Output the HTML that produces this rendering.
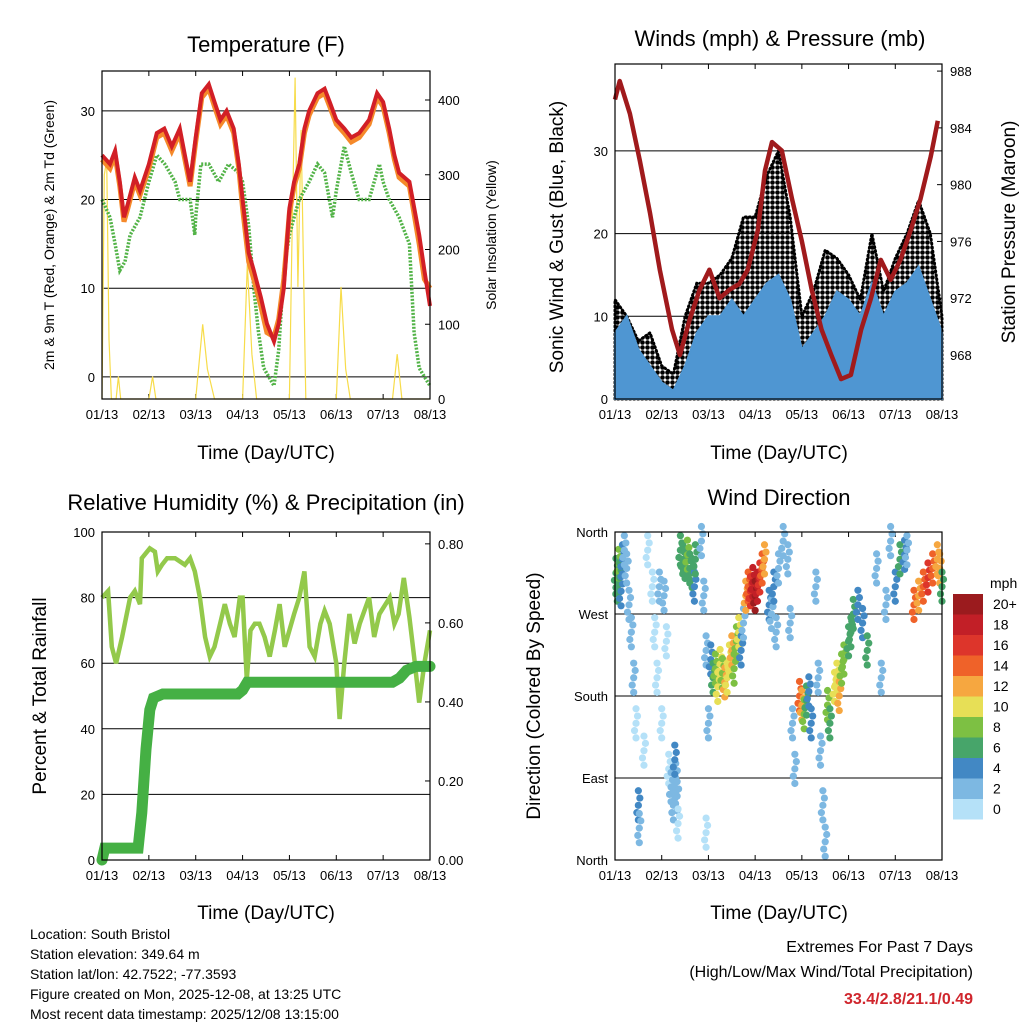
<!DOCTYPE html>
<html><head><meta charset="utf-8"><style>
body{margin:0;background:#fff}
svg{display:block;font-family:"Liberation Sans",Arial,sans-serif}
</style></head><body>
<svg id="s" width="1024" height="1024" viewBox="0 0 1024 1024">
<defs>
<pattern id="dots" width="5" height="5" patternUnits="userSpaceOnUse"><circle cx="2.5" cy="2.5" r="2.3" fill="#000"/></pattern>
</defs>
<text x="266" y="52" font-size="22" text-anchor="middle">Temperature (F)</text>
<text x="780" y="46" font-size="22" text-anchor="middle">Winds (mph) &amp; Pressure (mb)</text>
<text x="266" y="510" font-size="22" text-anchor="middle">Relative Humidity (%) &amp; Precipitation (in)</text>
<text x="779" y="505" font-size="22" text-anchor="middle">Wind Direction</text>
<text x="266" y="459" font-size="19" text-anchor="middle">Time (Day/UTC)</text>
<text x="779" y="459" font-size="19" text-anchor="middle">Time (Day/UTC)</text>
<text x="266" y="919" font-size="19" text-anchor="middle">Time (Day/UTC)</text>
<text x="779" y="919" font-size="19" text-anchor="middle">Time (Day/UTC)</text>
<text transform="translate(54,235) rotate(-90)" font-size="14" text-anchor="middle">2m &amp; 9m T (Red, Orange) &amp; 2m Td (Green)</text>
<text transform="translate(496,235) rotate(-90)" font-size="14" text-anchor="middle">Solar Insolation (Yellow)</text>
<text transform="translate(563,237) rotate(-90)" font-size="19" text-anchor="middle">Sonic Wind &amp; Gust (Blue, Black)</text>
<text transform="translate(1015,232) rotate(-90)" font-size="19" text-anchor="middle">Station Pressure (Maroon)</text>
<text transform="translate(46,696) rotate(-90)" font-size="19" text-anchor="middle">Percent &amp; Total Rainfall</text>
<text transform="translate(540,696) rotate(-90)" font-size="19" text-anchor="middle">Direction (Colored By Speed)</text>
<g font-size="14">
<text x="30" y="939">Location: South Bristol</text>
<text x="30" y="959">Station elevation: 349.64 m</text>
<text x="30" y="979">Station lat/lon: 42.7522; -77.3593</text>
<text x="30" y="999">Figure created on Mon, 2025-12-08, at 13:25 UTC</text>
<text x="30" y="1019">Most recent data timestamp: 2025/12/08 13:15:00</text>
</g>
<g font-size="16" text-anchor="end">
<text x="973" y="952">Extremes For Past 7 Days</text>
<text x="973" y="977">(High/Low/Max Wind/Total Precipitation)</text>
<text x="973" y="1004" fill="#d0262d" font-weight="bold">33.4/2.8/21.1/0.49</text>
</g>
<g id="plots"></g>
</svg>
<script>
// ---------- data ----------
const dayLabels=["01/13","02/13","03/13","04/13","05/13","06/13","07/13","08/13"];
const tTimes=[0,0.17,0.28,0.38,0.47,0.55,0.7,0.81,1.0,1.17,1.33,1.49,1.66,1.77,1.88,2.0,2.13,2.28,2.4,2.53,2.66,2.81,2.92,3.0,3.13,3.24,3.39,3.52,3.67,3.77,3.88,4.0,4.1,4.21,4.32,4.42,4.6,4.75,4.86,5.0,5.17,5.32,5.49,5.7,5.87,6.0,6.13,6.24,6.34,6.56,6.77,6.88,7.0];
const tRed=[25,24,25.5,22,18,19.5,22.5,21,24,27.5,28,26,28,25,22,27,32,33,31,29,30,28,24,20,14,12,9,6,4,6,10,19,22,24,28,30,32,32.5,31,29,28,27,27.5,29,32,31,28,25,23,22,16,12,8];
const tOrange=[24.5,23.5,25,21.5,17.5,19,22,20.5,23.5,27,27.5,25.5,27.5,24.5,21.5,26.5,31.5,32.5,30.5,28.5,29.5,27.5,23.5,19,13,11,8,5,4.5,6.5,11,18.5,21.5,23.5,27.5,29.5,31.5,32,30.5,28.5,27.5,26.5,27,28.5,31.5,30.5,27.5,24.5,22.5,21.5,15,11,10];
const tdTimes=[0,0.17,0.28,0.38,0.49,0.6,0.81,1.0,1.17,1.34,1.56,1.66,1.88,1.98,2.0,2.11,2.28,2.49,2.7,2.92,3.0,3.13,3.24,3.34,3.45,3.56,3.67,3.77,3.88,4.0,4.1,4.21,4.42,4.6,4.75,4.92,5.0,5.17,5.32,5.49,5.7,5.81,5.92,6.0,6.13,6.34,6.56,6.66,6.77,6.88,7.0];
const tdVals=[20,18,15,12,13,16,18,22,25,24,22,20,20,16,18,24,24,22,24,23,22,17,10,5,1,0,-1,3,12,16,18,20,22,24,23,18,21,26,23,20,20,22,24,22,20,18,15,5,1,0,-1];
const solTimes=[0,0.05,0.1,0.15,0.2,0.3,0.35,0.4,1.0,1.08,1.15,2.0,2.15,2.25,2.4,3.0,3.1,3.2,3.3,3.45,4.0,4.05,4.12,4.18,4.25,4.35,5.0,5.1,5.2,5.3,6.0,6.2,6.3,6.4,7.0];
const solVals=[0,300,320,80,0,0,30,0,0,30,0,0,100,40,0,0,180,60,0,0,0,200,430,150,360,0,0,150,40,0,0,0,60,0,0];
const wTimes=[0,0.25,0.5,0.75,1,1.25,1.5,1.75,2,2.25,2.5,2.75,3,3.25,3.5,3.75,4,4.25,4.5,4.75,5,5.25,5.5,5.75,6,6.25,6.5,6.75,7];
const wSust=[8,10,6,4,2,1,4,8,10,10,12,10,12,14,15,12,6,8,10,13,12,10,14,10,13,14,16,12,8];
const wGust=[12,10,7,8,4,3,10,14,14,15,17,22,22,27,30,22,10,13,18,17,15,12,20,13,17,20,24,20,10];
const pTimes=[0,0.1,0.32,0.53,0.75,0.96,1.22,1.39,1.6,1.81,2.02,2.24,2.45,2.66,2.84,3.06,3.21,3.36,3.57,3.79,4.0,4.21,4.42,4.63,4.84,5.05,5.27,5.48,5.69,5.9,6.11,6.33,6.54,6.76,6.91];
const pVals=[986,987.3,985,981.7,978,974,969.8,968,970.5,972.6,974,972,972.6,973,974,976.8,981,983,982.4,979,976,972.6,969.8,968,966.3,966.6,969.8,972,974.7,973.3,974.7,976.8,979,982,984.5];
const rhTimes=[0,0.13,0.21,0.3,0.43,0.6,0.7,0.81,0.85,1.02,1.13,1.19,1.28,1.39,1.56,1.77,1.88,1.98,2.09,2.2,2.3,2.4,2.52,2.62,2.73,2.83,2.94,3.0,3.09,3.17,3.26,3.36,3.47,3.58,3.69,3.79,3.9,4.0,4.1,4.21,4.32,4.43,4.54,4.66,4.75,4.86,5.0,5.07,5.17,5.28,5.39,5.5,5.7,5.81,5.92,6.14,6.24,6.33,6.44,6.56,6.66,6.77,6.88,7.0];
const rhVals=[80,82,65,60,68,80,82,78,92,95,94,88,90,92,92,90,92,88,80,68,62,65,72,78,72,68,80,80,55,70,72,72,68,62,70,78,65,70,75,80,88,65,62,72,76,72,60,43,60,75,66,72,80,68,75,80,72,75,86,74,62,48,60,70];
const prTimes=[0,0.06,0.77,0.85,0.94,1.02,1.1,1.3,1.5,2.0,2.5,2.9,3.0,3.1,3.5,4.0,5.0,6.0,6.2,6.35,6.5,6.7,7.0];
const prVals=[0,0.03,0.03,0.12,0.28,0.38,0.41,0.42,0.42,0.42,0.42,0.42,0.43,0.45,0.45,0.45,0.45,0.45,0.45,0.46,0.48,0.49,0.49];
const dTimes=[0.02,0.05,0.08,0.1,0.13,0.16,0.2,0.25,0.3,0.35,0.4,0.45,0.5,0.52,0.62,0.7,0.8,0.85,0.9,0.95,1.0,1.05,1.1,1.15,1.2,1.25,1.3,1.28,1.33,1.35,1.4,1.45,1.5,1.55,1.6,1.65,1.7,1.72,1.85,1.9,1.95,2.0,1.95,2.05,2.1,2.15,2.2,2.25,2.3,2.35,2.4,2.45,2.5,2.55,2.6,2.65,2.7,2.75,2.8,2.85,2.9,2.95,3.0,3.05,3.1,3.15,3.2,3.3,3.35,3.4,3.45,3.5,3.6,3.7,3.75,3.8,3.85,3.95,4.0,4.05,4.1,4.15,4.2,4.3,4.35,4.4,4.45,4.5,4.55,4.6,4.7,4.75,4.8,4.85,4.9,5.0,5.05,5.1,5.2,5.3,5.4,5.6,5.7,5.8,5.9,6.0,6.1,6.2,6.25,6.4,6.5,6.6,6.7,6.8,6.9,6.95,7.0];
const dDeg=[315,300,325,310,295,330,340,320,280,250,200,150,60,35,120,340,300,250,200,300,150,290,240,100,80,60,90,110,70,40,340,330,325,335,320,315,300,330,350,290,230,150,30,220,200,210,190,215,205,195,200,220,230,210,240,250,230,260,290,300,295,305,290,300,310,320,330,280,270,300,250,320,350,330,260,150,100,180,170,160,175,185,150,300,200,120,60,20,170,150,190,200,180,210,220,240,250,270,280,260,230,320,200,280,350,300,330,335,340,280,290,300,310,320,330,320,300];
const dSpd=[7,6,8,6,5,4,3,2,3,2,2,1,4,2,1,1,1,1,0,2,1,2,1,1,2,3,3,4,3,1,7,6,7,8,6,7,5,6,2,3,3,2,1,4,6,8,10,11,9,12,10,11,12,9,8,10,4,3,12,14,16,18,20,19,17,15,12,4,3,4,3,2,2,3,2,2,2,14,12,8,6,4,5,2,3,2,3,2,8,6,10,11,12,9,8,7,6,7,5,4,6,3,3,2,2,5,6,4,3,14,12,15,16,14,12,13,6];
const cbLabels=["20+","18","16","14","12","10","8","6","4","2","0"];
const cbColors=["#9b1b1e","#c21f27","#dd352b","#ef6229","#f6a740","#e7df56","#7dc043","#47a56a","#4288c4","#7db8e2","#b5e1f8"];
// ---------- helpers ----------
const NS="http://www.w3.org/2000/svg";
const root=document.getElementById('plots');
function mk(tag,attrs,parent){const e=document.createElementNS(NS,tag);for(const k in attrs)e.setAttribute(k,attrs[k]);(parent||root).appendChild(e);return e;}
function X(p,d){return p.x0+d/7*(p.x1-p.x0);}
function Y(p,v,mn,mx){return p.y1-(v-mn)/(mx-mn)*(p.y1-p.y0);}
function frame(p,name,yticks,ymin,ymax,ylabels,rticks,rmin,rmax,rlabels){
  const g=mk('g',{});
  
  
  yticks.forEach((v,i)=>{const y=Y(p,v,ymin,ymax);
    const l=mk('line',{x1:p.x0,x2:p.x1,y1:y,y2:y,stroke:'#000','stroke-width':1},g);
    
    
    const t=mk('text',{x:p.x0-7,y:y+5,'font-size':13,'text-anchor':'end'},g);t.textContent=ylabels[i];
    
    });
  rticks.forEach((v,i)=>{const y=Y(p,v,rmin,rmax);
    mk('line',{x1:p.x1,x2:p.x1-5,y1:y,y2:y,stroke:'#000'},g);
    const t=mk('text',{x:p.x1+8,y:y+5,'font-size':13},g);t.textContent=rlabels[i];
    
    });
  dayLabels.forEach((s,i)=>{const x=X(p,i);
    mk('line',{x1:x,x2:x,y1:p.y1,y2:p.y1-5,stroke:'#000'},g);
    mk('line',{x1:x,x2:x,y1:p.y0,y2:p.y0+5,stroke:'#000'},g);
    const t=mk('text',{x:x,y:p.y1+20,'font-size':13,'text-anchor':'middle'},g);t.textContent=s;
    
    });
  return g;}
function box(p){mk('rect',{x:p.x0,y:p.y0,width:p.x1-p.x0,height:p.y1-p.y0,fill:'none',stroke:'#000','stroke-width':1.2});}
function path(p,ts,vs,mn,mx){return ts.map((t,i)=>(i?'L':'M')+X(p,t).toFixed(1)+','+Y(p,vs[i],mn,mx).toFixed(1)).join('');}
// ---------- temperature ----------
const P1={x0:102,x1:430,y0:71,y1:399};
frame(P1,'temperature',[0,10,20,30],-2.5,34.5,['0','10','20','30'],[0,100,200,300,400],0,438.8,['0','100','200','300','400']);
const sol=mk('path',{d:path(P1,solTimes,solVals,0,438.8),fill:'none',stroke:'#f7dc4a','stroke-width':1.2});


const td=mk('path',{d:path(P1,tdTimes,tdVals,-2.5,34.5),fill:'none',stroke:'#52b347','stroke-width':3.5,'stroke-dasharray':'2 1.5'});


const tor=mk('path',{d:path(P1,tTimes,tOrange,-2.5,34.5),fill:'none',stroke:'#f5892a','stroke-width':5});


const tr=mk('path',{d:path(P1,tTimes,tRed,-2.5,34.5),fill:'none',stroke:'#d21f26','stroke-width':4});


box(P1);
// ---------- winds ----------
const P2={x0:615,x1:942,y0:64,y1:399};
frame(P2,'winds',[0,10,20,30],0,40.5,['0','10','20','30'],[968,972,976,980,984,988],964.9,988.5,['968','972','976','980','984','988']);
const gArea='M'+X(P2,0)+','+P2.y1+path(P2,wTimes,wGust,0,40.5).replace('M','L')+'L'+X(P2,7)+','+P2.y1+'Z';
const ga=mk('path',{d:gArea,fill:'url(#dots)',stroke:'#000','stroke-width':3,'stroke-dasharray':'1 3','stroke-linecap':'round'});


const sArea='M'+X(P2,0)+','+P2.y1+path(P2,wTimes,wSust,0,40.5).replace('M','L')+'L'+X(P2,7)+','+P2.y1+'Z';
const sa=mk('path',{d:sArea,fill:'#4f96d2',stroke:'#4f96d2','stroke-width':2});


const pr=mk('path',{d:path(P2,pTimes,pVals,964.9,988.5),fill:'none',stroke:'#a01a1c','stroke-width':4.5,'stroke-linejoin':'round'});


box(P2);
// ---------- RH ----------
const P3={x0:102,x1:430,y0:532,y1:860};
frame(P3,'rh',[0,20,40,60,80,100],0,100,['0','20','40','60','80','100'],[0,0.2,0.4,0.6,0.8],0,0.83,['0.00','0.20','0.40','0.60','0.80']);
const rh=mk('path',{d:path(P3,rhTimes,rhVals,0,100),fill:'none',stroke:'#93c94b','stroke-width':4.5});


const pc=mk('path',{d:path(P3,prTimes,prVals,0,0.83),fill:'none',stroke:'#45b044','stroke-width':11,'stroke-linecap':'round'});


box(P3);
// ---------- wind direction ----------
const P4={x0:615,x1:942,y0:532,y1:860};
frame(P4,'direction',[0,90,180,270,360],0,360,['North','East','South','West','North'],[],0,1,[]);
dTimes.forEach((t,i)=>{const bin=Math.min(10,Math.floor(dSpd[i]/2));
  for(let k=-2;k<=2;k++){
  const c=mk('circle',{cx:X(P4,t)+(k%2)*1.5,cy:Y(P4,dDeg[i]+k*8,0,360),r:3.6,fill:cbColors[10-bin]});
  
  }});
box(P4);
// colorbar
const cbt=mk('text',{x:990,y:588,'font-size':14});cbt.textContent='mph';


cbLabels.forEach((s,i)=>{const y=594+i*20.5;
  const r=mk('rect',{x:953,y:y,width:30,height:20.5,fill:cbColors[i]});
  
  
  const t=mk('text',{x:993,y:y+15,'font-size':14});t.textContent=s;
  
  });
</script>
</body></html>
